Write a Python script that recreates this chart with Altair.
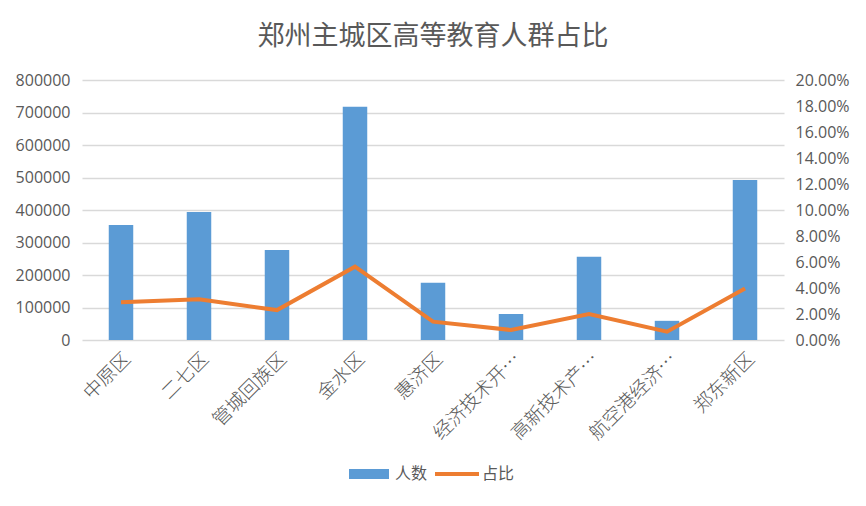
import altair as alt
import pandas as pd

districts = ["中原区", "二七区", "管城回族区", "金水区", "惠济区",
             "经济技术开…", "高新技术产…", "航空港经济…", "郑东新区"]
people = [354000, 394000, 277000, 718000, 176000, 80000, 256000, 59000, 492000]
ratio = [0.029, 0.0313, 0.023, 0.0564, 0.0141, 0.0077, 0.020, 0.0064, 0.0397]
left_ticks = [0, 100000, 200000, 300000, 400000, 500000, 600000, 700000, 800000]
right_ticks = [0, 0.02, 0.04, 0.06, 0.08, 0.10, 0.12, 0.14, 0.16, 0.18, 0.20]

df = pd.DataFrame({"区": districts, "人数": people, "占比": ratio,
                   "s1": "人数", "s2": "占比"})

CJK = "Noto Sans CJK SC"
NUM = "Open Sans"
GREY = "#595959"

x = alt.X("区:N", sort=districts, title=None,
          scale=alt.Scale(paddingInner=0.686, paddingOuter=0.343),
          axis=alt.Axis(labelAngle=-45, labelFont=CJK, labelFontSize=19,
                        labelFontWeight=300, labelColor=GREY, labelPadding=9,
                        domain=False, ticks=False, grid=False))

bars = alt.Chart(df).mark_bar().encode(
    x=x,
    y=alt.Y("人数:Q", title=None,
            scale=alt.Scale(domain=[0, 800000], nice=False),
            axis=alt.Axis(values=left_ticks, format="d", labelFont=NUM,
                          labelFontSize=16, labelColor=GREY, labelPadding=12,
                          domain=False, ticks=False, grid=True,
                          gridColor="#d9d9d9", gridWidth=1.3)),
    fill=alt.Fill("s1:N", scale=alt.Scale(range=["#5b9bd5"]),
                  legend=alt.Legend(title=None, orient="none", legendX=266,
                                    legendY=373,
                                    symbolType="M-1,-0.25H1V0.25H-1Z",
                                    symbolSize=1600, symbolOpacity=1,
                                    labelFont=CJK, labelFontSize=16,
                                    labelColor=GREY, labelOffset=5)),
)

line = alt.Chart(df).mark_line(strokeWidth=4).encode(
    x=x,
    y=alt.Y("占比:Q", title=None,
            scale=alt.Scale(domain=[0, 0.2], nice=False),
            axis=alt.Axis(values=right_ticks, format=".2%", orient="right",
                          labelFont=NUM, labelFontSize=16, labelColor=GREY,
                          labelPadding=11, domain=False, ticks=False,
                          grid=False)),
    stroke=alt.Stroke("s2:N", scale=alt.Scale(range=["#ed7d31"]),
                      legend=alt.Legend(title=None, orient="none", legendX=351,
                                        legendY=370, symbolType="stroke",
                                        symbolSize=1936, symbolStrokeWidth=4,
                                        labelFont=CJK, labelFontSize=16,
                                        labelColor=GREY, labelOffset=1)),
)

chart = alt.layer(bars, line).resolve_scale(
    y="independent"
).properties(
    width=702, height=260,
    autosize=alt.AutoSizeParams(type="none"),
    padding={"left": 82, "top": 80, "right": 82, "bottom": 166},
    title=alt.Title("郑州主城区高等教育人群占比", font=CJK, fontSize=27,
                    fontWeight="normal", color=GREY, anchor="middle",
                    offset=21),
    background="white",
).configure_view(stroke=None)

chart.save("out.html", embed_options={"renderer": "svg", "actions": False})
